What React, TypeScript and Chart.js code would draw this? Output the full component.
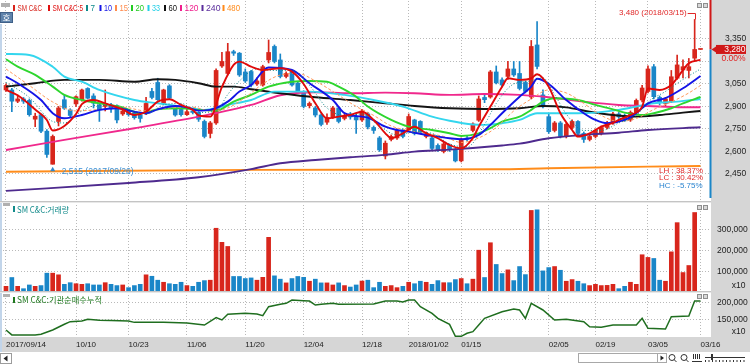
import React, { useEffect, useRef } from 'react';
import { Chart, registerables } from 'chart.js';

Chart.register(...registerables);

// ---------------- data ----------------
const tradingDays: [string, number[]][] = [
  ['2017/09', [14, 15, 18, 19, 20, 21, 22, 25, 26, 27, 28, 29]],
  ['2017/10', [10, 11, 12, 13, 16, 17, 18, 19, 20, 23, 24, 25, 26, 27, 30, 31]],
  ['2017/11', [1, 2, 3, 6, 7, 8, 9, 10, 13, 14, 15, 16, 17, 20, 21, 22, 23, 24, 27, 28, 29, 30]],
  ['2017/12', [1, 4, 5, 6, 7, 8, 11, 12, 13, 14, 15, 18, 19, 20, 21, 22, 26, 27, 28]],
  ['2018/01', [2, 3, 4, 5, 8, 9, 10, 11, 12, 15, 16, 17, 18, 19, 22, 23, 24, 25, 26, 29, 30, 31]],
  ['2018/02', [1, 2, 5, 6, 7, 8, 9, 12, 13, 14, 19, 20, 21, 22, 23, 26, 27, 28]],
  ['2018/03', [2, 5, 6, 7, 8, 9, 12, 13, 14, 15, 16]],
];
const dates: string[] = tradingDays.flatMap(([m, ds]) => ds.map((d) => `${m}/${String(d).padStart(2, '0')}`));

const xTickIdx = [0, 12, 21, 31, 41, 51, 61, 69, 78, 93, 101, 110, 119];
const xTickLabels = ['2017/09/14', '10/10', '10/23', '11/06', '11/20', '12/04', '12/18', '2018/01/02', '01/15', '02/05', '02/19', '03/05', '03/16'];

const priceTicks = [2450, 2600, 2750, 2900, 3050, 3200, 3350];
const volTicks = [100000, 200000, 300000];
const instTicks = [150000, 200000];

const open = [3010,3010,2935,2950,2940,2815,2845,2735,2515,2800, 2945,2877,2917,2945,3020,2970,2910,2900,2910,2905,
  2850,2870,2855,2845,2855,3000,3060,2921,3037,2890, 2880,2845,2870,2860,2800,2720,2790,3170,3120,3265,
  3255,3130,3133,3050,3043,3210,3300,3210,3100,3130, 3055,3000,2905,2890,2843,2795,2830,2890,2820,2850,
  2830,2810,2850,2760,2690,2570,2680,2690,2743,2743, 2810,2800,2700,2690,2640,2600,2640,2610,2537,2690,
  2740,2808,2960,2963,3130,3077,3100,3150,3120,3060, 2963,3310,2977,2832,2740,2790,2700,2760,2800,2720,
  2680,2700,2720,2760,2790,2850,2840,2810,2860,2943, 3000,3165,2960,2920,2932,3088,3143,3140,3222,3280];
const high = [3050,3020,2975,2960,2950,2855,2850,2745,2710,2900, 2977,2885,2970,3015,3025,2985,2915,3010,2920,2910,
  2880,2880,2865,2850,2961,3020,3088,3015,3045,2900, 2890,2880,2880,2865,2810,2800,3150,3260,3321,3275,
  3260,3150,3140,3090,3175,3343,3310,3250,3130,3140, 3065,3005,2930,2900,2850,2850,2900,2895,2850,2860,
  2850,2880,2860,2770,2700,2670,2710,2750,2750,2850, 2815,2805,2730,2700,2650,2660,2650,2620,2690,2700,
  2790,2970,2980,3140,3170,3090,3200,3200,3200,3070, 3340,3466,3010,2850,2800,2800,2790,2810,2805,2730,
  2720,2750,2770,2800,2860,2860,2850,2870,2950,3040, 3170,3180,2970,2960,3140,3243,3210,3220,3480,3280];
const low = [3000,2865,2925,2920,2835,2765,2725,2560,2515,2770, 2880,2830,2900,2935,2950,2890,2800,2870,2860,2790,
  2840,2835,2815,2795,2845,2950,2940,2915,2950,2835, 2835,2840,2850,2800,2690,2690,2780,3160,3110,3240,
  3100,3060,3030,3040,3035,3190,3190,3090,3090,3035, 2990,2890,2890,2830,2770,2780,2820,2790,2810,2815,
  2720,2800,2750,2720,2600,2550,2670,2680,2690,2735, 2710,2720,2690,2610,2600,2590,2600,2530,2530,2670,
  2730,2800,2925,2955,3050,3030,3080,3100,3010,2990, 2950,3150,2890,2720,2730,2690,2690,2750,2710,2660,
  2670,2690,2710,2750,2780,2820,2800,2800,2850,2930, 2990,2950,2910,2905,2925,3080,3090,3090,3200,3280];
const close = [3040,2935,2950,2935,2845,2835,2735,2580,2700,2890, 2888,2840,2965,3010,2955,2922,2877,2920,2888,2810,
  2870,2845,2825,2820,2920,2960,2945,3010,2955,2843, 2845,2865,2860,2815,2700,2790,3140,3200,3265,3255,
  3110,3070,3043,3070,3165,3260,3200,3100,3120,3043, 3000,2900,2920,2843,2780,2825,2890,2800,2840,2830,
  2810,2870,2763,2740,2610,2655,2700,2740,2700,2833, 2720,2730,2715,2620,2610,2650,2615,2537,2680,2680,
  2783,2950,2945,3130,3057,3043,3150,3110,3020,3000, 3300,3167,2898,2732,2790,2700,2780,2800,2720,2680,
  2700,2740,2760,2790,2850,2830,2810,2860,2940,3023, 3150,2965,2930,2950,3098,3177,3165,3165,3280,3280];
const volume = [27500,70000,27500,16000,34000,27500,31000,91000,91000,83000, 37000,45000,40000,37000,40000,34000,34000,45000,37000,31000,
  34000,21000,31000,37000,83000,76000,57000,47000,40000,37000, 47000,31000,27500,47000,55000,57000,308000,240000,220000,75000,
  75000,65000,68000,57000,71000,264000,78000,62000,44000,65000, 75000,71000,52000,62000,44000,44000,34000,44000,31000,24000,
  34000,53000,57000,21000,47000,27500,31000,21000,27500,47000, 40000,52000,47000,37000,55000,45000,45000,60000,65000,40000,
  62000,202000,70000,238000,133000,89000,107000,55000,123000,84000, 394000,397000,102000,118000,123000,105000,52000,60000,52000,40000,
  31000,37000,31000,32000,37000,16000,27500,47000,37000,180000, 167000,162000,57000,52000,194000,335000,94000,128000,384000,0];

// moving averages: [day index, value]
const ma5 = [[0,3010],[2,2975],[5,2880],[7,2810],[8,2740],[10,2770],[12,2850],[13,2915],[15,2943],[17,2921],[20,2880],[22,2843],[24,2865],[26,2932],[28,2948],[30,2910],[32,2877],[33,2840],[35,2832],[37,3030],[39,3177],[40,3199],[42,3165],[44,3143],[47,3155],[49,3132],[51,3050],[53,2921],[55,2821],[57,2832],[59,2843],[61,2865],[63,2810],[65,2721],[66,2688],[68,2721],[70,2765],[72,2721],[74,2688],[76,2643],[78,2621],[80,2690],[81,2765],[83,2899],[85,3032],[86,3088],[88,3077],[90,3088],[91,3115],[93,3032],[95,2855],[97,2743],[98,2699],[100,2721],[102,2765],[104,2790],[105,2810],[107,2843],[109,2899],[110,3020],[112,3010],[114,3043],[115,3090],[117,3188],[119,3210]];
const ma7 = [[0,3060],[4,2960],[8,2800],[10,2790],[13,2870],[16,2910],[20,2890],[24,2850],[27,2910],[30,2920],[33,2860],[36,2870],[38,2980],[40,3070],[43,3150],[46,3140],[49,3140],[52,3040],[55,2890],[58,2840],[61,2850],[64,2770],[67,2710],[70,2730],[73,2720],[76,2650],[79,2630],[82,2780],[84,2920],[87,3050],[90,3070],[92,3090],[94,2980],[96,2850],[99,2740],[102,2740],[105,2790],[108,2840],[110,2930],[113,3000],[116,3080],[119,3150]];
const ma10 = [[0,3099],[2,3055],[6,2943],[8,2855],[10,2821],[13,2843],[16,2877],[19,2888],[22,2865],[24,2855],[26,2881],[29,2903],[31,2894],[33,2872],[35,2877],[38,2932],[40,2999],[42,3043],[45,3160],[49,3143],[52,3055],[56,2943],[58,2855],[61,2832],[62,2825],[65,2765],[67,2743],[69,2732],[72,2710],[74,2699],[76,2688],[78,2681],[81,2710],[83,2777],[85,2855],[88,2965],[90,3032],[91,3085],[93,3050],[96,2943],[99,2855],[101,2810],[103,2788],[106,2810],[108,2855],[110,2921],[113,2955],[116,3021],[119,3103]];
const ma15 = [[0,3150],[4,3040],[8,2930],[12,2870],[16,2880],[20,2895],[24,2870],[28,2890],[32,2895],[35,2870],[38,2890],[41,2960],[44,3050],[47,3110],[50,3120],[53,3070],[56,3000],[60,2900],[63,2840],[66,2770],[69,2740],[72,2720],[75,2700],[78,2660],[81,2690],[84,2760],[87,2870],[90,2950],[93,3010],[96,2990],[99,2920],[102,2840],[105,2800],[108,2820],[111,2880],[114,2930],[117,2990],[119,3040]];
const ma20 = [[0,3215],[2,3165],[5,3110],[8,3032],[10,2977],[13,2943],[16,2921],[20,2894],[23,2855],[26,2881],[30,2888],[33,2877],[36,2872],[39,2932],[42,2977],[45,3032],[49,3065],[52,3070],[55,3065],[57,3032],[60,2965],[62,2899],[66,2810],[69,2765],[73,2743],[76,2721],[78,2703],[81,2721],[83,2755],[85,2799],[88,2832],[90,2877],[92,2932],[94,2955],[98,2943],[101,2910],[104,2881],[106,2859],[109,2843],[111,2855],[114,2888],[116,2921],[119,2963]];
const ma33 = [[0,3250],[4,3243],[8,3165],[10,3099],[13,3065],[16,3010],[22,2943],[26,2921],[31,2894],[34,2877],[38,2910],[42,2943],[46,2999],[52,2999],[58,2977],[63,2943],[68,2899],[73,2832],[76,2805],[80,2780],[82,2777],[85,2788],[88,2810],[91,2855],[94,2855],[98,2855],[101,2859],[105,2877],[108,2899],[111,2921],[115,2932],[119,2950]];
const ma60 = [[0,3032],[5,3055],[10,3077],[16,3077],[22,3065],[26,3081],[29,3077],[33,3055],[36,3032],[39,3032],[42,3015],[47,2988],[53,2961],[59,2943],[65,2921],[70,2903],[76,2888],[82,2883],[88,2888],[92,2903],[96,2894],[100,2865],[104,2843],[108,2832],[112,2843],[116,2859],[119,2870]];
const ma120 = [[0,2610],[10,2677],[22,2755],[33,2832],[42,2910],[47,2975],[53,2995],[59,2988],[65,2992],[70,2988],[76,2977],[82,2983],[88,2977],[93,2961],[99,2932],[105,2910],[110,2903],[116,2895],[119,2895]];
const ma240 = [[0,2337],[21,2390],[33,2428],[42,2482],[47,2521],[53,2543],[59,2561],[65,2577],[70,2599],[76,2612],[85,2640],[88,2652],[93,2688],[99,2710],[105,2725],[110,2743],[119,2761]];
const ma480 = [[0,2465],[42,2477],[84,2481],[93,2488],[110,2499],[119,2503]];

// institutional net buying, cumulative (x10): [day index, value]
const instCum = [[0,118500],[1,104000],[5,103800],[6,105900],[8,118500],[10,135300],[11,143000],[13,145000],[14,150000],[16,147000],[18,146500],[21,145000],[22,141000],[27,141000],[31,139000],[34,133200],[36,154800],[37,148000],[38,164700],[41,167600],[43,165600],[44,160600],[45,187100],[47,194100],[48,197000],[49,206800],[51,204700],[52,203800],[53,192000],[54,194100],[56,197000],[57,194100],[63,195000],[65,203800],[67,203800],[68,200900],[69,206800],[70,206800],[71,187100],[73,167600],[74,152900],[76,135300],[77,100000],[78,100000],[79,108800],[80,113500],[81,133200],[82,152900],[85,172400],[87,180300],[88,177400],[89,152900],[90,197000],[92,177400],[94,148000],[96,150000],[99,143000],[100,128200],[102,126500],[104,133200],[108,133200],[109,152900],[110,123500],[113,121500],[114,157700],[117,159700],[118,203800],[119,203800]];

// ---------------- style ----------------
const RED = '#d8261c';
const BLUE = '#1a86c8';
const AXIS_BG = '#d6d6d6';
const GRID = '#b9b9b9';
const FONT = '"Liberation Sans", Arial, sans-serif';
const KFONT = '"Noto Sans CJK KR", "Liberation Sans", sans-serif';

const legendItems: [string, string, number, number][] = [
  ['SM C&C', '#d8241c', 13, 24.5],
  ['SM C&C:5', '#e01010', 48, 30.5],
  ['7', '#0c8a8a', 86, 4.5],
  ['10', '#1414e6', 99.5, 8],
  ['15', '#ff8a4c', 115, 8.5],
  ['20', '#22cc22', 131, 8.5],
  ['33', '#22cfe6', 147.5, 8],
  ['60', '#111111', 164, 8.5],
  ['120', '#f01e8c', 180, 14],
  ['240', '#5a2c9c', 201.5, 14.5],
  ['480', '#ff8a1a', 222.5, 13],
];

const fmt = (v: number) => v.toLocaleString('en-US');

function txt(ctx: any, s: string, x: number, y: number, color: string, size: number, align: string = 'left', family: string = FONT, maxW?: number) {
  ctx.font = `${size}px ${family}`;
  ctx.fillStyle = color;
  ctx.textAlign = align;
  ctx.textBaseline = 'middle';
  if (maxW) ctx.fillText(s, x, y, maxW);
  else ctx.fillText(s, x, y);
}

const decorPlugin = {
  id: 'decor',
  beforeDraw(chart: any) {
    const { ctx, chartArea: ca, width, height } = chart;
    ctx.save();
    ctx.fillStyle = '#ffffff';
    ctx.fillRect(0, 0, width, height);
    ctx.fillStyle = AXIS_BG;
    ctx.fillRect(ca.right, 0, width - ca.right, ca.bottom + 15);
    ctx.fillRect(0, ca.bottom, width, 15);
    ctx.restore();
  },
  afterDraw(chart: any) {
    const { ctx, chartArea: ca, width } = chart;
    const xs = chart.scales.x;
    const ys = chart.scales.y;
    const yv = chart.scales.yVol;
    const yi = chart.scales.yInst;
    ctx.save();
    ctx.setLineDash([]);

    // left frame
    ctx.fillStyle = '#c2d5ea';
    ctx.fillRect(0, 24, 2, ca.bottom + 15 - 24);

    // panel separators
    for (const yy of [yv.top, yi.top]) {
      const r = Math.round(yy);
      ctx.fillStyle = '#c4c4c4';
      ctx.fillRect(0, r - 1, ca.right, 1);
      ctx.fillStyle = '#e8e8e8';
      ctx.fillRect(0, r, ca.right, 1);
    }

    // small panel buttons
    const btn = (x: number, y: number) => {
      ctx.fillStyle = '#d8d8d8';
      ctx.fillRect(x, y, 5, 5);
      ctx.strokeStyle = '#8e8e8e';
      ctx.lineWidth = 1;
      ctx.strokeRect(x + 0.5, y + 0.5, 4, 4);
    };
    for (const t of [3, yv.top + 3, yi.top + 2]) {
      btn(697, Math.round(t));
      btn(703, Math.round(t));
    }
    // grey collapse handles top-left of each panel
    ctx.fillStyle = '#b0b0b0';
    ctx.fillRect(1, 3, 9, 4);
    ctx.fillRect(3, Math.round(yv.top) + 1, 7, 3);
    ctx.fillRect(3, Math.round(yi.top) + 2, 7, 3);

    // legend row (price panel)
    for (const [label, color, x, w] of legendItems) {
      ctx.fillStyle = color;
      ctx.fillRect(x, 5, 2, 6);
      txt(ctx, label, x + 4.5, 8.5, color, 9, 'left', FONT, w);
    }
    // volume & institutional legends
    ctx.fillStyle = '#138b8b';
    ctx.fillRect(13, yv.top + 4, 2, 6);
    txt(ctx, 'SM C&C:거래량', 17, yv.top + 7.5, '#138b8b', 8.5, 'left', KFONT, 52);
    ctx.fillStyle = '#207a20';
    ctx.fillRect(13, yi.top + 5, 2, 6);
    txt(ctx, 'SM C&C:기관순매수누적', 17, yi.top + 8, '#207a20', 8.5, 'left', KFONT, 85);

    // 호 button
    ctx.fillStyle = '#5f83ab';
    ctx.fillRect(0, 12, 13, 11);
    ctx.strokeStyle = '#3f6088';
    ctx.strokeRect(0.5, 12.5, 12, 10);
    txt(ctx, '호', 6.5, 17.8, '#ffffff', 8.5, 'center', KFONT);

    // highest / lowest annotations
    const hiVal = Math.max(...high);
    const loVal = Math.min(...low);
    const hiIdx = high.indexOf(hiVal);
    const loIdx = low.indexOf(loVal);
    const hx = xs.getPixelForValue(hiIdx);
    const hy = ys.getPixelForValue(hiVal);
    ctx.strokeStyle = '#e02828';
    ctx.lineWidth = 1;
    ctx.beginPath();
    ctx.moveTo(hx - 7, 13.5);
    ctx.lineTo(Math.round(hx) + 0.5, 13.5);
    ctx.lineTo(Math.round(hx) + 0.5, hy);
    ctx.stroke();
    txt(ctx, `${fmt(hiVal)} (${dates[hiIdx]})`, hx - 8, 13, '#e02828', 8, 'right');

    const lx = xs.getPixelForValue(loIdx);
    const ly = ys.getPixelForValue(loVal);
    ctx.fillStyle = '#2f86cc';
    ctx.beginPath();
    ctx.moveTo(lx, ly + 2.5);
    ctx.lineTo(lx - 2.5, ly + 7);
    ctx.lineTo(lx + 2.5, ly + 7);
    ctx.closePath();
    ctx.fill();
    txt(ctx, `${fmt(loVal)} (${dates[loIdx]})`, lx + 9, ly + 7.8, '#3a8fd4', 8.5, 'left');

    // LH / LC / HC
    const last = close.length - 1;
    const lastClose = close[last];
    const pct = (a: number, b: number) => ((a / b - 1) * 100).toFixed(2) + '%';
    txt(ctx, `LH : ${pct(hiVal, loVal)}`, 659, 170.5, '#e02828', 8, 'left');
    txt(ctx, `LC : ${pct(lastClose, loVal)}`, 659, 178.2, '#e02828', 8, 'left');
    txt(ctx, `HC : ${pct(lastClose, hiVal)}`, 659, 185.8, '#2a84d0', 8, 'left');

    // current price marker
    const py = ys.getPixelForValue(lastClose);
    ctx.fillStyle = '#d01818';
    ctx.fillRect(ca.right - 1.5, 0, 2, py);
    ctx.fillStyle = BLUE;
    ctx.fillRect(ca.right - 1.5, py, 2, ys.bottom - 4 - py);
    ctx.fillStyle = '#d01818';
    ctx.beginPath();
    ctx.moveTo(ca.right + 0.5, py);
    ctx.lineTo(ca.right + 5, py - 3);
    ctx.lineTo(ca.right + 5, py + 3);
    ctx.closePath();
    ctx.fill();
    ctx.fillRect(ca.right + 5, py - 4.5, width - 4 - (ca.right + 5), 9);
    txt(ctx, fmt(lastClose), width - 4.5, py + 0.3, '#ffffff', 8.5, 'right');
    const chg = ((lastClose - close[last - 1]) / close[last - 1] * 100).toFixed(2) + '%';
    txt(ctx, chg, width - 4.5, py + 9.5, '#e02020', 8.5, 'right');

    // unit labels
    txt(ctx, 'x10', width - 4.5, yv.bottom - 6.5, '#222', 8.5, 'right');
    txt(ctx, 'x10', width - 4.5, yi.bottom - 5.5, '#222', 8.5, 'right');

    // bottom scroll strip
    const sy = ca.bottom + 15;
    ctx.fillStyle = '#ffffff';
    ctx.fillRect(0, sy, width, 364 - sy);
    ctx.strokeStyle = '#9c9c9c';
    ctx.strokeRect(0.5, sy + 1.5, 11, 10);
    ctx.fillStyle = '#222';
    ctx.beginPath();
    ctx.moveTo(3.5, sy + 6.5); ctx.lineTo(7.5, sy + 3.5); ctx.lineTo(7.5, sy + 9.5); ctx.closePath(); ctx.fill();
    ctx.strokeStyle = '#a8a8a8';
    ctx.strokeRect(578.5, sy + 1.5, 79, 9);
    ctx.strokeRect(657.5, sy + 1.5, 9, 9);
    ctx.fillStyle = '#222';
    ctx.beginPath();
    ctx.moveTo(664, sy + 6); ctx.lineTo(660.5, sy + 3.5); ctx.lineTo(660.5, sy + 8.5); ctx.closePath(); ctx.fill();
    ctx.strokeStyle = '#333';
    for (const cx of [672, 684]) {
      ctx.beginPath(); ctx.arc(cx, sy + 5.5, 3, 0, Math.PI * 2); ctx.stroke();
      ctx.beginPath(); ctx.moveTo(cx + 2, sy + 7.5); ctx.lineTo(cx + 4.5, sy + 10); ctx.stroke();
    }
    ctx.fillStyle = '#333';
    for (let k = 0; k < 4; k++) ctx.fillRect(693 + k * 2, sy + 2, 1, 5);
    ctx.fillRect(692, sy + 9, 10, 1);
    ctx.fillRect(705, sy + 5, 40, 1);
    ctx.fillRect(711, sy + 2, 2, 6);
    for (let k = 0; k < 12; k++) ctx.fillRect(705 + k * 3.5, sy + 8, 1, 2);

    ctx.restore();
  },
};

const pts = (arr: number[][]) => arr.map(([x, y]) => ({ x, y }));

function maLine(label: string, data: number[][], color: string, width: number, dash: number[], order: number) {
  return {
    type: 'line', label, data: pts(data), borderColor: color, borderWidth: width, borderDash: dash,
    pointRadius: 0, fill: false, cubicInterpolationMode: 'monotone', xAxisID: 'x', yAxisID: 'y', order,
  };
}

function zeroPad(s: any) {
  s.paddingLeft = 0; s.paddingRight = 0; s.paddingTop = 0; s.paddingBottom = 0;
}

export default function App() {
  const ref = useRef<HTMLCanvasElement>(null);
  useEffect(() => {
    const candleColors = close.map((c, i) => (c >= open[i] ? RED : BLUE));
    const tickFont = { family: FONT, size: 8.5 };
    const yAxis = (stackWeight: number, min: number, max: number, ticks: number[], pad: number, hide: number[] = []) => ({
      type: 'linear', position: 'right', stack: 'right', stackWeight, min, max, offset: false,
      afterBuildTicks: (s: any) => { s.ticks = ticks.map((v) => ({ value: v })); },
      afterFit: (s: any) => { s.width = 39; zeroPad(s); },
      ticks: { crossAlign: 'near', padding: pad, font: tickFont, color: '#222', autoSkip: false,
        callback: (v: number) => (hide.includes(v) ? '' : fmt(v)) },
      grid: { color: GRID, drawTicks: false, lineWidth: 1, offset: false },
      border: { display: false, dash: [1, 2] },
    });

    const config: any = {
      type: 'bar',
      data: {
        datasets: [
          maLine('SM C&C:5', ma5, '#e00a0a', 1.9, [], 0),
          maLine('7', ma7, '#0c8a8a', 1, [1, 2], 1),
          maLine('10', ma10, '#1414e6', 1.9, [], 2),
          maLine('15', ma15, '#ff9a5c', 1, [3, 2], 3),
          maLine('20', ma20, '#2ed62e', 1.9, [], 4),
          maLine('33', ma33, '#33d6ee', 1.9, [], 5),
          maLine('60', ma60, '#141414', 1.9, [], 6),
          maLine('120', ma120, '#f0288c', 1.9, [], 7),
          maLine('240', ma240, '#4e2a8e', 1.9, [], 8),
          maLine('480', ma480, '#ff8c1a', 1.9, [], 9),
          {
            type: 'bar', label: 'body', data: open.map((o, i) => ({ x: i, y: [o, close[i]] })),
            backgroundColor: candleColors, barThickness: 4, grouped: false, minBarLength: 1, borderWidth: 0,
            xAxisID: 'x', yAxisID: 'y', order: 20,
          },
          {
            type: 'bar', label: 'wick', data: low.map((l, i) => ({ x: i, y: [l, high[i]] })),
            backgroundColor: candleColors, barThickness: 1, grouped: false, borderWidth: 0,
            xAxisID: 'x', yAxisID: 'y', order: 21,
          },
          {
            type: 'bar', label: '거래량', data: volume.map((v, i) => ({ x: i, y: v })),
            backgroundColor: candleColors, barThickness: 4, grouped: false, borderWidth: 0,
            xAxisID: 'x', yAxisID: 'yVol', order: 22,
          },
          {
            type: 'line', label: '기관순매수누적', data: pts(instCum), borderColor: '#1f6e1f', borderWidth: 1.5,
            pointRadius: 0, fill: false, tension: 0, xAxisID: 'x', yAxisID: 'yInst', order: 0,
          },
        ],
      },
      options: {
        responsive: false,
        animation: false,
        devicePixelRatio: 1,
        events: [],
        layout: { padding: { left: 3, top: 1, right: 0, bottom: 12 } },
        plugins: { legend: { display: false }, tooltip: { enabled: false } },
        scales: {
          x: {
            type: 'linear', position: 'bottom', min: -0.514, max: 120.8, offset: false,
            afterBuildTicks: (s: any) => { s.ticks = xTickIdx.map((v) => ({ value: v })); },
            afterFit: (s: any) => { s.height = 15; zeroPad(s); },
            ticks: {
              autoSkip: false, maxRotation: 0, minRotation: 0, align: 'start', padding: 3,
              font: { family: FONT, size: 8 }, color: '#222',
              callback: (v: number) => { const k = xTickIdx.indexOf(v); return k >= 0 ? xTickLabels[k] : ''; },
            },
            grid: { color: GRID, drawTicks: false, lineWidth: 1, offset: false },
            border: { display: false, dash: [1, 2] },
          },
          y: yAxis(201, 2263, 3603, priceTicks, 14, [3200]),
          yVol: yAxis(90, 0, 434783, volTicks, 6),
          yInst: yAxis(45, 97941, 230294, instTicks, 6),
        },
      },
      plugins: [decorPlugin],
    };
    const chart = new Chart(ref.current as HTMLCanvasElement, config);
    return () => chart.destroy();
  }, []);

  return (
    <div style={{ position: 'absolute', left: 0, top: 0, width: 750, height: 364 }}>
      <canvas ref={ref} width={750} height={364} style={{ width: 750, height: 364, display: 'block' }} />
    </div>
  );
}
